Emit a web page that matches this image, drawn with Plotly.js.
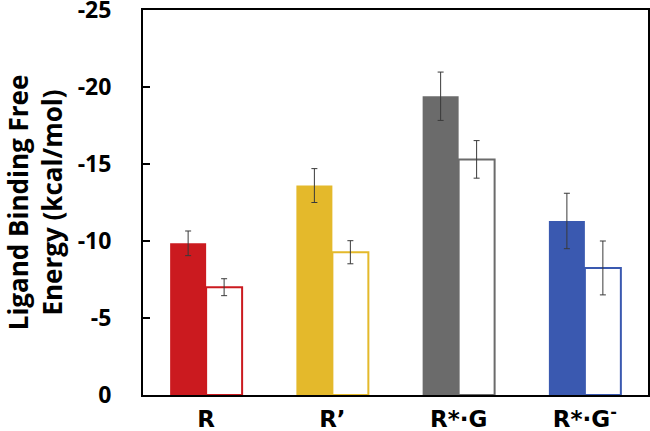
<!DOCTYPE html>
<html>
<head>
<meta charset="utf-8">
<script src="https://cdn.plot.ly/plotly-3.0.1.min.js"></script>
<style>
  html, body { margin: 0; padding: 0; background: #fff; }
  #plot { width: 650px; height: 431px; }
</style>
</head>
<body>
<div id="plot"></div>
<script>
// categories and read-off values (kcal/mol)
const categories = ['R', 'R’', 'R*·G', 'R*·G<sup>-</sup>'];
const filledValues = [-9.85, -13.6, -19.4, -11.3];
const filledErrors = [0.8, 1.1, 1.57, 1.8];
const openValues = [-7.0, -9.27, -15.3, -8.25];
const openErrors = [0.55, 0.75, 1.22, 1.75];
const barColors = ['#CB1A1F', '#E4B92B', '#6B6B6B', '#3A59B0'];
const yTicks = [0, -5, -10, -15, -20, -25];

const fontFamily = '"Open Sans", sans-serif';
const catFont = '"DejaVu Sans", "Open Sans", sans-serif';

let traceFilled = {
    type: 'bar',
    x: categories,
    y: filledValues,
    marker: { color: barColors, line: { width: 0 } },
    error_y: { type: 'data', array: filledErrors, visible: true, color: '#3a3a3a', thickness: 1, width: 3 },
    hoverinfo: 'none'
};

let traceOpen = {
    type: 'bar',
    x: categories,
    y: openValues,
    marker: { color: '#ffffff', line: { color: barColors, width: 2 } },
    error_y: { type: 'data', array: openErrors, visible: true, color: '#3a3a3a', thickness: 1, width: 3 },
    hoverinfo: 'none'
};

let layout = {
    width: 650,
    height: 431,
    margin: { l: 143, r: 2, t: 10, b: 36 },
    paper_bgcolor: '#ffffff',
    plot_bgcolor: '#ffffff',
    showlegend: false,
    barmode: 'group',
    bargap: 0.43,
    bargroupgap: 0,
    font: { family: fontFamily, color: '#000000' },
    xaxis: {
        type: 'category',
        showline: true,
        linecolor: '#000000',
        linewidth: 2,
        mirror: true,
        ticks: '',
        ticklabelstandoff: 2,
        showgrid: false,
        zeroline: false,
        tickfont: { size: 23, family: catFont, weight: 'bold' },
        automargin: false
    },
    yaxis: {
        range: [0.001, -25.001],
        tickvals: yTicks,
        ticktext: yTicks.map(v => String(v)),
        ticklabeloverflow: 'allow',
        showline: true,
        linecolor: '#000000',
        linewidth: 2,
        mirror: true,
        ticks: 'inside',
        ticklen: 7,
        tickwidth: 1.5,
        tickcolor: '#000000',
        ticklabelstandoff: 25,
        showgrid: false,
        zeroline: false,
        tickfont: { size: 23, family: fontFamily, weight: 'bold' },
        title: {
            text: 'Ligand Binding Free<br>Energy (kcal/mol)',
            font: { size: 26, family: fontFamily, weight: 'bold' },
            standoff: 13
        },
        automargin: false
    }
};

Plotly.newPlot('plot', [traceFilled, traceOpen], layout, { displayModeBar: false, staticPlot: true });
</script>
</body>
</html>
